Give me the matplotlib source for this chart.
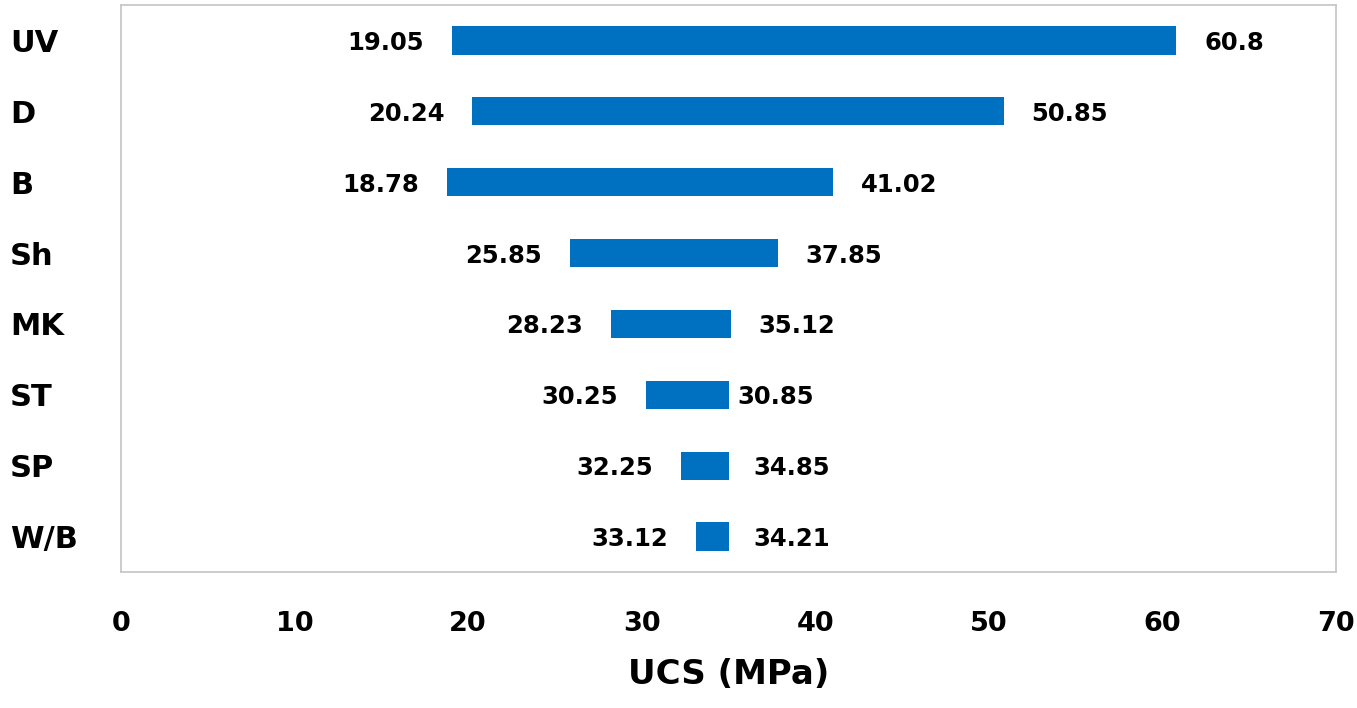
import numpy as np
import matplotlib.pyplot as plt

plt.rcParams['font.family'] = ['DejaVu Sans']
plt.rcParams['font.weight'] = 'bold'

# datos
categorias = ['UV', 'D', 'B', 'Sh', 'MK', 'ST', 'SP', 'W/B']
ucs_min = [19.05, 20.24, 18.78, 25.85, 28.23, 30.25, 32.25, 33.12]
ucs_max = [60.8, 50.85, 41.02, 37.85, 35.12, 35.05, 35.05, 35.05]   # extremo dibujado de la barra
etiqueta_min = ['19.05', '20.24', '18.78', '25.85', '28.23', '30.25', '32.25', '33.12']
etiqueta_max = ['60.8', '50.85', '41.02', '37.85', '35.12', '30.85', '34.85', '34.21']

xticks = [0, 10, 20, 30, 40, 50, 60, 70]

# separacion de las etiquetas de la derecha (puntos)
sep_der = [20, 20, 20, 20, 20, 6, 17, 17]

azul = '#0070C0'

fig = plt.figure(figsize=(13.57, 7.08), dpi=100)
ax = fig.add_axes([121/1357, 1 - 572/708, (1336 - 121)/1357, (572 - 5)/708])

y = np.arange(len(categorias))
ancho = np.array(ucs_max) - np.array(ucs_min)
ax.barh(y, ancho, left=ucs_min, height=0.4, color=azul)

for i in range(len(categorias)):
    ax.annotate(etiqueta_min[i], (ucs_min[i], y[i]), xytext=(-20, 0),
                textcoords='offset points', ha='right', va='center_baseline',
                fontsize=17.5, fontweight='bold')
    ax.annotate(etiqueta_max[i], (ucs_max[i], y[i]), xytext=(sep_der[i], 0),
                textcoords='offset points', ha='left', va='center_baseline',
                fontsize=17.5, fontweight='bold')

ax.set_xlim(0, 70)
ax.set_ylim(len(categorias) - 0.5, -0.5)
ax.set_xticks(xticks)
ax.set_xticklabels([str(t) for t in xticks], fontsize=19.5, fontweight='bold')
ax.set_yticks(y)
ax.set_yticklabels(categorias, fontsize=22, fontweight='bold', ha='left')
ax.tick_params(axis='x', length=0, pad=28)
ax.tick_params(axis='y', length=0, pad=80)

ax.set_xlabel('UCS (MPa)', fontsize=24.5, fontweight='bold', labelpad=15)

for s in ax.spines.values():
    s.set_color('#c8c8c8')
    s.set_linewidth(1.3)

fig.savefig('out.png', dpi=100)
